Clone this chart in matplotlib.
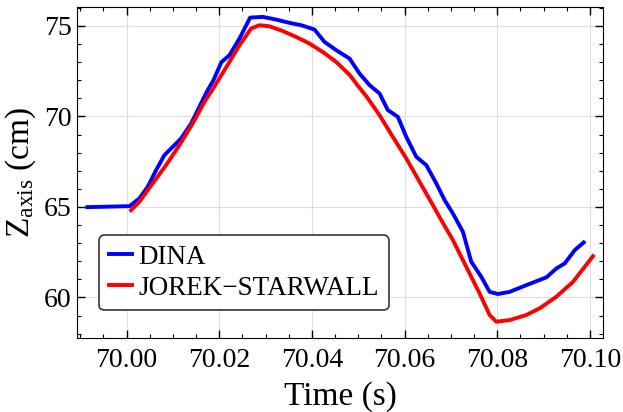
import matplotlib
matplotlib.use("Agg")
import matplotlib.pyplot as plt
from matplotlib.ticker import MultipleLocator

plt.rcParams["font.family"] = ["Liberation Serif", "DejaVu Serif"]
plt.rcParams["mathtext.fontset"] = "custom"
plt.rcParams["mathtext.rm"] = "Liberation Serif"
plt.rcParams["mathtext.it"] = "Liberation Serif:italic"

# DINA vertical position of the magnetic axis
dina_t = [69.99151, 70.00000, 70.00060, 70.00274, 70.00454, 70.00635, 70.00814, 70.00994,
          70.01175, 70.01391, 70.01570, 70.01728, 70.01873, 70.02045, 70.02218, 70.02434,
          70.02665, 70.02937, 70.03227, 70.03514, 70.03767, 70.04054, 70.04270, 70.04523,
          70.04810, 70.05026, 70.05242, 70.05458, 70.05637, 70.05853, 70.06035, 70.06251,
          70.06467, 70.06683, 70.06862, 70.07041, 70.07257, 70.07438, 70.07654, 70.07834,
          70.08013, 70.08266, 70.08626, 70.09058, 70.09274, 70.09454, 70.09670, 70.09864]
dina_z = [64.99, 65.04, 65.04, 65.47, 66.11, 67.03, 67.86, 68.32,
          68.78, 69.61, 70.53, 71.36, 72.00, 73.00, 73.38, 74.30,
          75.46, 75.50, 75.35, 75.17, 75.04, 74.80, 74.12, 73.66,
          73.20, 72.37, 71.73, 71.27, 70.35, 69.98, 68.87, 67.77,
          67.31, 66.30, 65.38, 64.64, 63.63, 61.97, 61.14, 60.31,
          60.19, 60.31, 60.68, 61.11, 61.60, 61.88, 62.61, 63.04]

# JOREK-STARWALL
jorek_t = [70.00095, 70.00274, 70.00562, 70.00851, 70.01138, 70.01425, 70.01678, 70.01857,
           70.02218, 70.02434, 70.02687, 70.02866, 70.03082, 70.03369, 70.03659, 70.03946,
           70.04233, 70.04523, 70.04810, 70.04989, 70.05171, 70.05458, 70.05745, 70.06035,
           70.06322, 70.06609, 70.06790, 70.07041, 70.07330, 70.07618, 70.07834, 70.07978,
           70.08266, 70.08626, 70.08914, 70.09274, 70.09633, 70.10065]
jorek_z = [64.82, 65.28, 66.30, 67.31, 68.41, 69.61, 70.80, 71.50,
           73.01, 73.93, 74.86, 75.04, 74.98, 74.72, 74.39, 74.03,
           73.56, 73.01, 72.30, 71.70, 71.12, 70.07, 68.87, 67.68,
           66.39, 65.10, 64.27, 63.17, 61.69, 60.22, 59.03, 58.66,
           58.75, 59.03, 59.40, 60.04, 60.86, 62.28]

xticks = [70.00, 70.02, 70.04, 70.06, 70.08, 70.10]
yticks = [60, 65, 70, 75]

fig = plt.figure(figsize=(6.23, 4.12), dpi=100)
ax = fig.add_axes([0.1241, 0.1796, 0.8433, 0.8027])

ax.plot(dina_t, dina_z, color="#0000ff", lw=2.8, solid_joinstyle="round", label="DINA")
ax.plot(jorek_t, jorek_z, color="#ff0000", lw=2.8, solid_joinstyle="round",
        label="JOREK\u2212STARWALL")

ax.set_xlim(69.98935, 70.10274)
ax.set_ylim(57.76, 76.03)
ax.set_xticks(xticks)
ax.set_xticklabels([f"{v:.2f}" for v in xticks])
ax.set_yticks(yticks)
ax.xaxis.set_minor_locator(MultipleLocator(0.005))
ax.yaxis.set_minor_locator(MultipleLocator(1))
ax.tick_params(which="both", direction="in", top=True, right=True, labelsize=20)
ax.tick_params(which="major", length=6, width=1)
ax.tick_params(which="minor", length=3, width=0.8)
ax.tick_params(axis="x", pad=7)
ax.tick_params(axis="y", pad=4)
ax.grid(which="major", color="#dddddd", lw=0.8)

ax.set_xlabel("Time (s)", fontsize=24, labelpad=6)
ax.set_ylabel(r"Z$_{\mathrm{axis}}$ (cm)", fontsize=24, labelpad=4)

leg = ax.legend(loc="lower left", bbox_to_anchor=(0.042, 0.0846), borderaxespad=0,
                fontsize=19.5, handlelength=0.85, handletextpad=0.25, fancybox=True,
                framealpha=1, labelspacing=0.22, borderpad=0.35)
leg.get_frame().set_edgecolor("#333333")
leg.get_frame().set_linewidth(1.2)

fig.savefig("out.png", dpi=100)
